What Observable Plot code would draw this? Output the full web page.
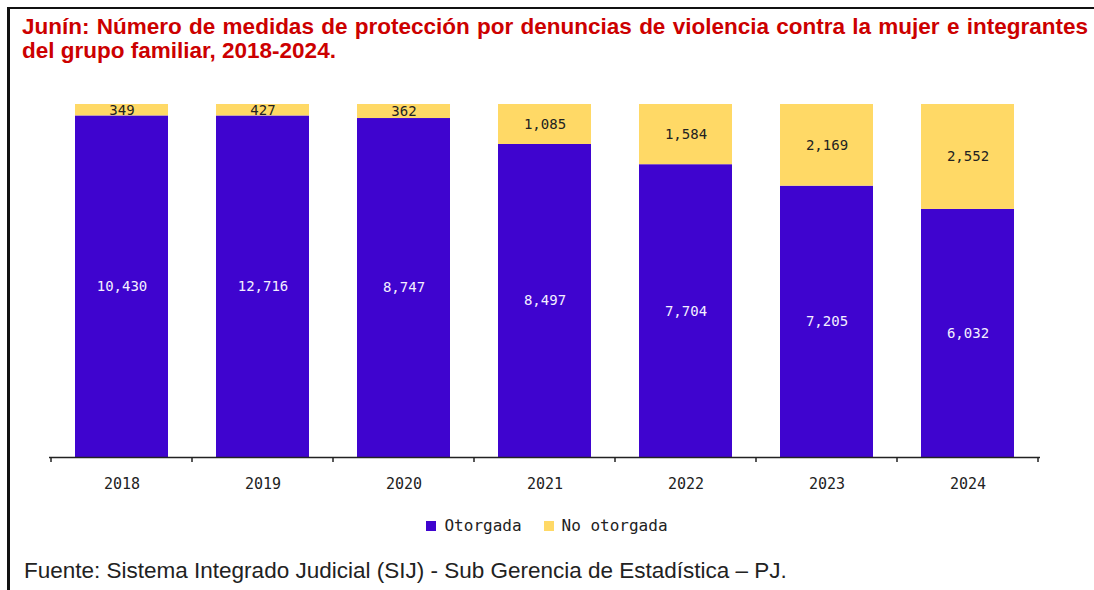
<!DOCTYPE html>
<html>
<head>
<meta charset="utf-8">
<script src="https://cdn.jsdelivr.net/npm/d3@7"></script>
<script src="https://cdn.jsdelivr.net/npm/@observablehq/plot@0.6"></script>
<style>
  html, body { margin: 0; padding: 0; background: #fff; }
  #wrap { position: relative; width: 1094px; height: 590px; overflow: hidden; background: #fff; }
  #frame { position: absolute; left: 7px; top: 7px; width: 1100px; height: 600px; border-left: 3px solid #111; border-top: 2px solid #111; }
  #title { position: absolute; left: 22px; top: 15px; width: 1066px; font-family: "Liberation Sans", Arial, sans-serif; font-weight: bold; font-size: 22.5px; line-height: 24px; color: #cc0000; white-space: nowrap; }
  #title .l1 { text-align: justify; text-align-last: justify; }
  #chart { position: absolute; left: 0; top: 80px; }
  #legend { position: absolute; left: 0; top: 516px; width: 1094px; text-align: center; font-family: "DejaVu Sans Mono", monospace; font-size: 16px; letter-spacing: 0px; color: #222; }
  #legend span.sw { display: inline-block; width: 10px; height: 10px; margin-right: 8px; vertical-align: 0px; }
  #legend span.item { margin: 0 11px; }
  #caption { position: absolute; left: 24px; top: 558px; font-family: "Liberation Sans", Arial, sans-serif; font-size: 22.5px; color: #222; white-space: nowrap; }
</style>
</head>
<body>
<div id="wrap">
  <div id="frame"></div>
  <div id="title"><div class="l1">Junín: Número de medidas de protección por denuncias de violencia contra la mujer e integrantes</div><div>del grupo familiar, 2018-2024.</div></div>
  <div id="chart"></div>
  <div id="legend"></div>
  <div id="caption">Fuente: Sistema Integrado Judicial (SIJ) - Sub Gerencia de Estadística – PJ.</div>
</div>
<script>
const years = ["2018", "2019", "2020", "2021", "2022", "2023", "2024"];
const otorgada = [10430, 12716, 8747, 8497, 7704, 7205, 6032];
const noOtorgada = [349, 427, 362, 1085, 1584, 2169, 2552];
const seriesNames = ["Otorgada", "No otorgada"];
const seriesColors = ["#3f04cf", "#ffd966"];

const data = [];
years.forEach((y, i) => {
  data.push({year: y, status: seriesNames[0], value: otorgada[i]});
  data.push({year: y, status: seriesNames[1], value: noOtorgada[i]});
});

const fmt = d3.format(",");
const stackOpts = {x: "year", y: "value", z: "status", offset: "normalize"};

const plot = Plot.plot({
  width: 1094,
  height: 420,
  marginTop: 24,
  marginBottom: 43,
  marginLeft: 49,
  marginRight: 54,
  x: {domain: years, paddingInner: 0.34, paddingOuter: 0.17, label: null},
  y: {domain: [0, 1], axis: null},
  color: {domain: seriesNames, range: seriesColors},
  style: {background: "transparent"},
  marks: [
    Plot.barY(data, Plot.stackY({...stackOpts, fill: "status"})),
    Plot.text(data, Plot.stackY({...stackOpts,
      text: d => d.status === seriesNames[0] ? fmt(d.value) : null,
      fill: "#f4f0ff", fontFamily: "DejaVu Sans Mono", fontSize: 14})),
    Plot.text(data, Plot.stackY({...stackOpts,
      text: d => d.status === seriesNames[1] ? fmt(d.value) : null,
      fill: "#222", fontFamily: "DejaVu Sans Mono", fontSize: 14})),
    Plot.ruleY([0], {stroke: "#222", strokeWidth: 1.5}),
    Plot.axisX({tickSize: 0, tickPadding: 21, fontSize: 15, fontFamily: "DejaVu Sans Mono", fill: "#222", label: null})
  ]
});

document.getElementById("chart").appendChild(plot);

// boundary ticks between categories, from the x band scale
const xs = plot.scale("x");
const svg = d3.select(plot);
const baseY = 420 - 43;
const gap = (xs.step - xs.bandwidth) / 2;
const bounds = years.map(y => xs.apply(y) - gap);
bounds.push(xs.apply(years[years.length - 1]) + xs.bandwidth + gap);
svg.append("g").selectAll("line").data(bounds).join("line")
  .attr("x1", d => d).attr("x2", d => d)
  .attr("y1", baseY).attr("y2", baseY + 5)
  .attr("stroke", "#222").attr("stroke-width", 1.5);

// legend
const leg = document.getElementById("legend");
leg.innerHTML = seriesNames.map((n, i) =>
  `<span class="item"><span class="sw" style="background:${seriesColors[i]}"></span>${n}</span>`).join("");
</script>
</body>
</html>
